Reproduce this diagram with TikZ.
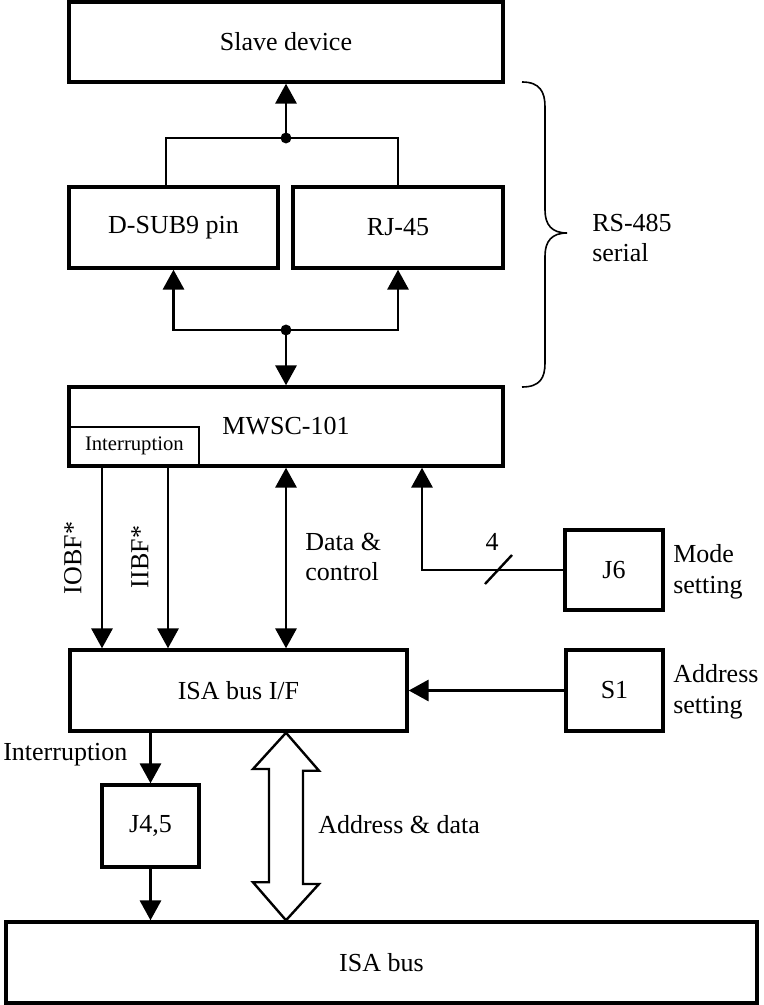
\documentclass[tikz,border=0pt]{standalone}
\usepackage{fontspec}
\setmainfont{Liberation Serif}
\usetikzlibrary{arrows.meta,calc}

\tikzset{
  blk/.style args={#1/#2}{draw, line width=2.6pt, rectangle, inner sep=0pt,
    minimum width=#1*0.75pt, minimum height=#2*0.75pt, align=center},
  wire/.style={line width=1.8pt},
  arr/.style={wire, -{Triangle[length=15pt,width=16pt]}},
  darr/.style={wire, {Triangle[length=15pt,width=16pt]}-{Triangle[length=15pt,width=16pt]}},
  lbl/.style={inner sep=0pt, align=left},
  jdot/.style={fill=black},
}

\begin{document}
\begin{tikzpicture}[x=0.75pt, y=-0.75pt, font=\fontsize{19.5}{23}\selectfont]
\useasboundingbox (0,0) rectangle (763,1005);

% blocks
\node[blk=434/80]  (slave)  at (286,42)    {Slave device};
\node[blk=209/81]  (dsub)   at (173.5,227.5) {D-SUB9 pin};
\node[blk=210/81]  (rj)     at (398,227.5) {RJ-45};
\node[blk=434/79]  (mwsc)   at (286,426.5) {MWSC-101};
\node[blk=129/38, line width=1.3pt, anchor=south west,
      font=\fontsize{15.5}{18}\selectfont] (intr) at (69,466) {Interruption};
\node[blk=337/81]  (isaif)  at (238.5,690.5) {ISA bus I/F};
\node[blk=98/80]   (j6)     at (614,570)   {J6};
\node[blk=97/81]   (s1)     at (614.5,690.5) {S1};
\node[blk=97/82]   (j45)    at (150.5,826) {J4,5};
\node[blk=751/81]  (isabus) at (381.5,962.5) {ISA bus};

% RS-485 side: junctions above and below the two connectors
\coordinate (jtop) at (slave.south |- 0,138);
\coordinate (jbot) at (mwsc.north |- 0,330);

\draw[wire] ($(dsub.north west)+(99,0)$) |- (jtop) -| (rj.north);
\draw[arr] (jtop) -- (slave.south);
\fill[jdot] (jtop) circle (4.1pt);

\draw[arr] (jbot) -| (dsub.south);
\draw[arr] (jbot) -| (rj.south);
\draw[arr] (jbot) -- (mwsc.north);
\fill[jdot] (jbot) circle (4.1pt);

% interrupt status lines
\coordinate (iobf) at ($(intr.south west)+(33,0)$);
\coordinate (iibf) at ($(intr.south west)+(99,0)$);
\draw[arr] (iobf) -- (iobf |- isaif.north);
\draw[arr] (iibf) -- (iibf |- isaif.north);
\node[lbl, rotate=90] (tiobf) at (73,558) {IOBF*};
\node[lbl, rotate=90] (tiibf) at (140,557) {IIBF*};

% data and control
\draw[darr] (mwsc.south) -- (mwsc.south |- isaif.north);
\node[lbl, anchor=west] (tdc) at (305,557) {Data \&\\control};

% mode jumper
\coordinate (mcorner) at (422,570);
\draw[arr] (j6.west) -- (mcorner) -- (mcorner |- mwsc.south);
\draw[wire] (485,584) -- (512,555);
\node[lbl] (tfour) at (492,542) {4};
\node[lbl, anchor=west] (tmode) at (673,572) {Mode\\setting};

% address switch
\draw[arr] (s1.west) -- (isaif.east);
\node[lbl, anchor=west] (taddr) at (673,692) {Address\\setting};

% interrupt jumper
\draw[arr] (j45.north |- isaif.south) -- (j45.north);
\draw[arr] (j45.south) -- (j45.south |- isabus.north);
\node[lbl, anchor=west] (tint) at (3,755) {Interruption};

% address & data bus (hollow double arrow)
\coordinate (bt) at (mwsc.south |- isaif.south);
\coordinate (bb) at (mwsc.south |- isabus.north);
\draw[wire, line join=miter, fill=white]
  (bt) -- ++(33,38) -- ++(-16,0) coordinate (sr)
  -- (sr |- 0,884) -- ++(16,0) -- (bb) -- ++(-33,-38) -- ++(16,0) coordinate (sl)
  -- (sl |- 0,769) -- ++(-16,0) -- cycle;
\node[lbl, anchor=west] (tad) at (318,825) {Address \& data};

% RS-485 brace
\draw[line width=1.2pt]
  (522,82) .. controls (540,82) and (545,92) .. (545,107)
  -- (545,210) .. controls (545,225) and (552,233) .. (567,233)
  .. controls (552,233) and (545,241) .. (545,256)
  -- (545,363) .. controls (545,378) and (540,387) .. (522,387);
\node[lbl, anchor=west] (trs) at (592,238) {RS-485\\serial};
\end{tikzpicture}
\end{document}
